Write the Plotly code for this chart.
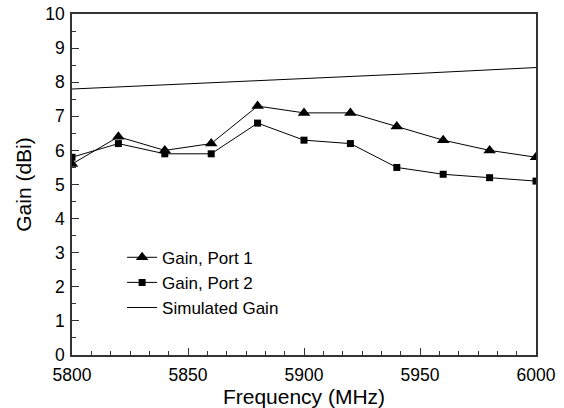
import plotly.graph_objects as go

freq = [5800, 5820, 5840, 5860, 5880, 5900, 5920, 5940, 5960, 5980, 6000]
gain_port1 = [5.6, 6.4, 6.0, 6.2, 7.3, 7.1, 7.1, 6.7, 6.3, 6.0, 5.8]
gain_port2 = [5.8, 6.2, 5.9, 5.9, 6.8, 6.3, 6.2, 5.5, 5.3, 5.2, 5.1]
sim_freq = [5800, 5850, 5900, 5950, 6000]
sim_gain = [7.80, 7.95, 8.10, 8.26, 8.43]

x_ticks = [5800, 5850, 5900, 5950, 6000]
y_ticks = list(range(0, 11))

FONT = "Liberation Sans, Arial, sans-serif"

fig = go.Figure()
fig.add_trace(go.Scatter(
    x=freq, y=gain_port1, name="Gain, Port 1", mode="lines+markers",
    line=dict(color="black", width=1),
    marker=dict(symbol="triangle-up", size=11, color="black"),
))
fig.add_trace(go.Scatter(
    x=freq, y=gain_port2, name="Gain, Port 2", mode="lines+markers",
    line=dict(color="black", width=1),
    marker=dict(symbol="square", size=7, color="black"),
))
fig.add_trace(go.Scatter(
    x=sim_freq, y=sim_gain, name="Simulated Gain", mode="lines",
    line=dict(color="black", width=1),
))

axis_common = dict(
    showline=True, linecolor="#333333", linewidth=1.5, mirror=True,
    ticks="inside", ticklen=7, tickwidth=1.2, tickcolor="#333333",
    showgrid=False, zeroline=False, automargin=False,
    tickfont=dict(family=FONT, size=17.5, color="black"),
)

fig.update_layout(
    width=564, height=408,
    margin=dict(l=72, r=28, t=14, b=53),
    paper_bgcolor="white", plot_bgcolor="white",
    font=dict(family=FONT, color="black"),
    xaxis=dict(
        range=[5800, 6000], tickvals=x_ticks,
        ticklabelstandoff=3,
        title=dict(text="Frequency (MHz)", font=dict(family=FONT, size=21), standoff=2),
        minor=dict(ticks="inside", ticklen=4, tickcolor="#333333", dtick=50/6, tick0=5800),
        **axis_common,
    ),
    yaxis=dict(
        range=[0, 10], tickvals=y_ticks,
        ticklabelstandoff=2,
        title=dict(text="Gain (dBi)", font=dict(family=FONT, size=21), standoff=8),
        minor=dict(ticks="inside", ticklen=4, tickcolor="#333333", dtick=0.5),
        **axis_common,
    ),
    legend=dict(
        x=0.108, y=0.338, xanchor="left", yanchor="top",
        bgcolor="rgba(0,0,0,0)", borderwidth=0,
        font=dict(family=FONT, size=17, color="black"),
        tracegroupgap=0,
    ),
    showlegend=True,
)

fig.write_html("out.html")
